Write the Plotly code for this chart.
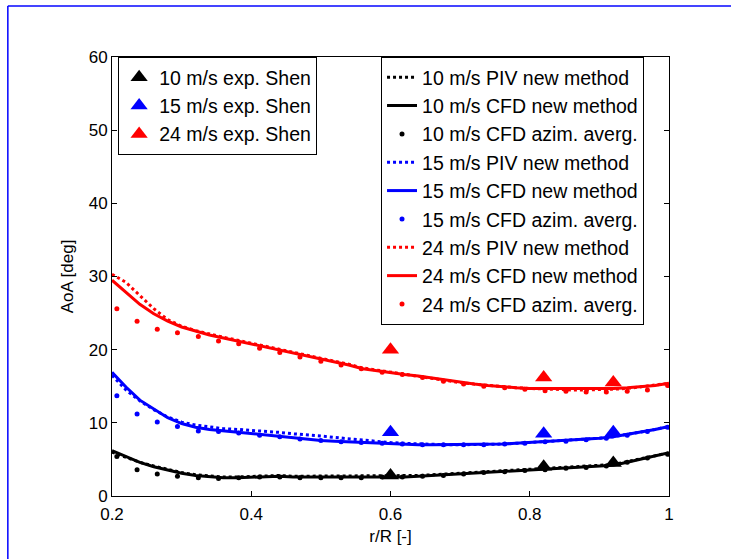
import plotly.graph_objects as go

# ---------------- data ----------------
r_line = [0.20, 0.22, 0.24, 0.26, 0.28, 0.30, 0.32, 0.34, 0.36, 0.38, 0.40,
          0.42, 0.44, 0.46, 0.48, 0.50, 0.52, 0.54, 0.56, 0.58, 0.60,
          0.62, 0.64, 0.66, 0.68, 0.70, 0.72, 0.74, 0.76, 0.78, 0.80,
          0.82, 0.84, 0.86, 0.88, 0.90, 0.92, 0.94, 0.96, 0.98, 1.00]

cfd10 = [6.2, 5.4, 4.6, 4.0, 3.5, 3.1, 2.8, 2.6, 2.5, 2.5, 2.6,
         2.7, 2.7, 2.6, 2.6, 2.5, 2.5, 2.5, 2.5, 2.5, 2.6,
         2.6, 2.7, 2.8, 2.9, 3.0, 3.1, 3.2, 3.3, 3.4, 3.5,
         3.6, 3.7, 3.8, 3.9, 4.0, 4.2, 4.6, 5.0, 5.5, 5.9]
piv10 = [6.0, 5.3, 4.6, 4.1, 3.6, 3.2, 2.9, 2.7, 2.6, 2.6, 2.7,
         2.8, 2.8, 2.7, 2.7, 2.7, 2.7, 2.7, 2.7, 2.7, 2.7,
         2.7, 2.8, 2.9, 3.0, 3.1, 3.2, 3.3, 3.4, 3.5, 3.6,
         3.7, 3.8, 3.9, 4.0, 4.1, 4.3, 4.7, 5.1, 5.5, 5.9]

cfd15 = [16.9, 14.9, 13.1, 11.9, 10.7, 9.9, 9.4, 9.1, 8.9, 8.8, 8.6,
         8.4, 8.2, 8.0, 7.8, 7.6, 7.5, 7.4, 7.3, 7.2, 7.2,
         7.1, 7.0, 7.0, 7.0, 7.0, 7.0, 7.1, 7.1, 7.2, 7.3,
         7.4, 7.5, 7.6, 7.8, 7.9, 8.1, 8.4, 8.7, 9.1, 9.5]
piv15 = [16.5, 14.5, 13.0, 11.8, 10.8, 10.1, 9.7, 9.4, 9.2, 9.1, 9.0,
         8.9, 8.7, 8.5, 8.4, 8.2, 8.0, 7.8, 7.6, 7.5, 7.3,
         7.2, 7.1, 7.0, 7.0, 7.0, 7.0, 7.1, 7.1, 7.2, 7.3,
         7.4, 7.5, 7.6, 7.8, 7.9, 8.1, 8.4, 8.7, 9.1, 9.5]

cfd24 = [29.5, 27.8, 26.2, 24.9, 23.9, 23.1, 22.5, 22.0, 21.6, 21.2, 20.8,
         20.4, 20.0, 19.6, 19.2, 18.7, 18.3, 17.9, 17.4, 17.1, 16.8,
         16.6, 16.4, 16.1, 15.8, 15.5, 15.3, 15.1, 14.9, 14.8, 14.7,
         14.7, 14.6, 14.6, 14.6, 14.6, 14.7, 14.8, 14.9, 15.1, 15.4]
piv24 = [30.3, 29.2, 27.4, 25.6, 24.1, 23.2, 22.6, 22.1, 21.7, 21.3, 20.9,
         20.5, 20.1, 19.7, 19.3, 18.8, 18.4, 18.0, 17.5, 17.2, 16.9,
         16.6, 16.4, 16.1, 15.8, 15.5, 15.3, 15.1, 14.9, 14.8, 14.7,
         14.6, 14.5, 14.5, 14.5, 14.5, 14.6, 14.7, 14.9, 15.1, 15.4]

r_az = [0.207, 0.236, 0.265, 0.294, 0.324, 0.353, 0.382, 0.412, 0.441, 0.470,
        0.500, 0.529, 0.558, 0.588, 0.617, 0.646, 0.676, 0.705, 0.734, 0.764,
        0.793, 0.822, 0.852, 0.881, 0.910, 0.940, 0.969, 0.998]
az10 = [5.4, 3.6, 3.0, 2.7, 2.5, 2.4, 2.5, 2.6, 2.6, 2.5,
        2.5, 2.5, 2.5, 2.6, 2.6, 2.7, 2.8, 3.0, 3.2, 3.3,
        3.5, 3.6, 3.8, 3.9, 4.1, 4.6, 5.2, 5.7]
az15 = [13.7, 11.2, 10.1, 9.5, 8.9, 8.8, 8.6, 8.3, 8.1, 7.8,
        7.6, 7.4, 7.3, 7.2, 7.1, 7.0, 7.0, 7.0, 7.0, 7.1,
        7.2, 7.4, 7.5, 7.7, 7.9, 8.3, 8.8, 9.4]
az24 = [25.6, 23.9, 22.8, 22.3, 21.8, 21.2, 20.8, 20.2, 19.6, 19.0,
        18.4, 17.9, 17.4, 16.9, 16.6, 16.2, 15.7, 15.3, 15.0, 14.8,
        14.6, 14.4, 14.3, 14.2, 14.2, 14.3, 14.5, 15.1]

r_exp = [0.6, 0.82, 0.92]
exp10 = [2.8, 4.0, 4.5]
exp15 = [8.7, 8.5, 8.7]
exp24 = [20.0, 16.2, 15.5]

speeds = ["10", "15", "24"]
colors = ["#000000", "#0000ff", "#ff0000"]

FONT = "Liberation Sans, Arial, Helvetica, sans-serif"

fig = go.Figure()

cfd_all = [cfd10, cfd15, cfd24]
piv_all = [piv10, piv15, piv24]
az_all = [az10, az15, az24]
exp_all = [exp10, exp15, exp24]

for i, s in enumerate(speeds):
    c = colors[i]
    fig.add_trace(go.Scatter(x=r_line, y=piv_all[i], mode="lines",
                             line=dict(color=c, width=3, dash="dot"),
                             name=f"{s} m/s PIV new method", legend="legend2",
                             legendrank=10 + 3 * i))
    fig.add_trace(go.Scatter(x=r_line, y=cfd_all[i], mode="lines",
                             line=dict(color=c, width=3),
                             name=f"{s} m/s CFD new method", legend="legend2",
                             legendrank=11 + 3 * i))
    fig.add_trace(go.Scatter(x=r_az, y=az_all[i], mode="markers",
                             marker=dict(color=c, size=5),
                             name=f"{s} m/s CFD azim. averg.", legend="legend2",
                             legendrank=12 + 3 * i))

for i, s in enumerate(speeds):
    c = colors[i]
    fig.add_trace(go.Scatter(x=r_exp, y=exp_all[i], mode="markers",
                             marker=dict(color=c, size=15, symbol="triangle-up"),
                             name=f"{s} m/s exp. Shen", legend="legend",
                             legendrank=i + 1))

axis_common = dict(showgrid=False, zeroline=False, showline=True,
                   linecolor="black", linewidth=1, mirror="ticks",
                   ticks="inside", ticklen=5, tickcolor="black",
                   tickfont=dict(family=FONT, size=17, color="black"))

leg_common = dict(bgcolor="white", bordercolor="black", borderwidth=1,
                  font=dict(family=FONT, size=19.5, color="black"),
                  traceorder="normal", itemwidth=30)

fig.update_layout(
    width=731, height=559,
    margin=dict(l=112, r=62, t=57, b=63),
    paper_bgcolor="white", plot_bgcolor="white",
    font=dict(family=FONT, color="black"),
    xaxis=dict(range=[0.2, 1.0], tickvals=[0.2, 0.4, 0.6, 0.8, 1.0],
               ticktext=["0.2", "0.4", "0.6", "0.8", "1"],
               ticklabelstandoff=3,
               title=dict(text="r/R [-]", font=dict(family=FONT, size=17), standoff=6),
               **axis_common),
    yaxis=dict(range=[0, 60], tickvals=[0, 10, 20, 30, 40, 50, 60],
               title=dict(text="AoA [deg]", font=dict(family=FONT, size=17), standoff=10),
               **axis_common),
    legend=dict(x=0.011, y=1.0, xanchor="left", yanchor="top", **leg_common),
    legend2=dict(x=0.483, y=1.0, xanchor="left", yanchor="top",
                 entrywidth=275, entrywidthmode="pixels", **leg_common),
    shapes=[
        dict(type="line", xref="paper", yref="paper", x0=-0.187, x1=1.2,
             y0=1.116, y1=1.116, line=dict(color="#4444ff", width=2)),
        dict(type="line", xref="paper", yref="paper", x0=-0.187, x1=-0.187,
             y0=1.116, y1=-0.2, line=dict(color="#0000ff", width=1.5)),
    ],
)

fig.write_html("out.html", config={"displayModeBar": False},
               post_script="document.body.style.margin='0px';")
